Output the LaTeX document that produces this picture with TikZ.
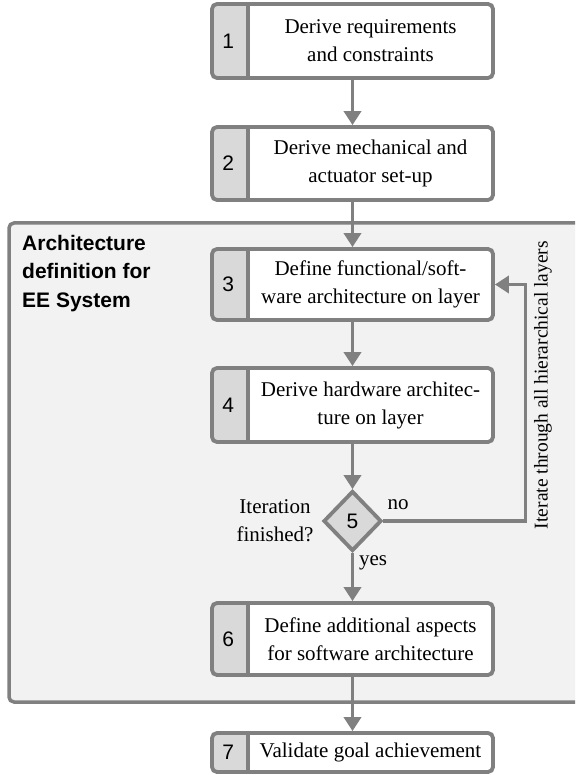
\documentclass[tikz,border=0pt]{standalone}
\usepackage{fontspec}
\setmainfont{Liberation Serif}
\setsansfont{Liberation Sans}
\usetikzlibrary{arrows.meta,shapes.geometric}
\definecolor{lg}{RGB}{128,128,128}
\definecolor{cellgray}{RGB}{217,217,217}
\definecolor{clusterbg}{RGB}{242,242,242}
\begin{document}
\begin{tikzpicture}[x=1pt,y=-1pt,
  boxshape/.style={draw=lg, line width=3.8pt, rounded corners=5pt, fill=white,
    minimum width=281pt, inner sep=0pt,
    path picture={\fill[cellgray] (path picture bounding box.north west) rectangle ([xshift=36pt]path picture bounding box.south west);
      \draw[lg, line width=3.8pt] ([xshift=36pt]path picture bounding box.north west) -- ([xshift=36pt]path picture bounding box.south west);}},
  numtxt/.style={font=\sffamily\fontsize{21}{25}\selectfont, inner sep=0pt},
  boxtxt/.style={font=\fontsize{21}{28}\selectfont, align=center, inner sep=0pt},
  lbl/.style={font=\fontsize{21}{28}\selectfont, align=center, inner sep=0pt},
  arr/.style={draw=lg, line width=3.8pt, -{Triangle[width=17pt,length=14pt]}},
  decision/.style={diamond, draw=lg, fill=cellgray, line width=3.8pt, minimum width=58pt, minimum height=60pt, inner sep=0pt, font=\sffamily\fontsize{21}{25}\selectfont}
]
\useasboundingbox (0,0) rectangle (575,775);
\begin{scope}
\clip (0,0) rectangle (575,775);
\draw[draw=lg, fill=clusterbg, line width=3.5pt, rounded corners=5pt] (9,223) rectangle (640,702);
\end{scope}
\node[font=\sffamily\bfseries\fontsize{21}{28.5}\selectfont, align=left, anchor=west, inner sep=0pt] (cl) at (22,273.5) {Architecture\\definition for\\EE System};

\node[boxshape, minimum height=74pt] (b1) at (352.5,41) {};
\node[numtxt] (n1) at ([xshift=18pt]b1.west) {1};
\node[boxtxt] (t1) at ([xshift=18pt]b1.center) {Derive requirements\\and constraints};

\node[boxshape, minimum height=73pt] (b2) at (352.5,163.5) {};
\node[numtxt] (n2) at ([xshift=18pt]b2.west) {2};
\node[boxtxt] (t2) at ([xshift=18pt]b2.center) {Derive mechanical and\\actuator set-up};

\node[boxshape, minimum height=71pt] (b3) at (352.5,284.5) {};
\node[numtxt] (n3) at ([xshift=18pt]b3.west) {3};
\node[boxtxt] (t3) at ([xshift=18pt]b3.center) {Define functional/soft-\\ware architecture on layer};

\node[boxshape, minimum height=74pt] (b4) at (352.5,405) {};
\node[numtxt] (n4) at ([xshift=18pt]b4.west) {4};
\node[boxtxt] (t4) at ([xshift=18pt]b4.center) {Derive hardware architec-\\ture on layer};

\node[decision] (d5) at (352.5,521) {5};

\node[boxshape, minimum height=72pt] (b6) at (352.5,639) {};
\node[numtxt] (n6) at ([xshift=18pt]b6.west) {6};
\node[boxtxt] (t6) at ([xshift=18pt]b6.center) {Define additional aspects\\for software architecture};

\node[boxshape, minimum height=39pt] (b7) at (352.5,752.5) {};
\node[numtxt] (n7) at ([xshift=18pt]b7.west) {7};
\node[boxtxt] (t7) at ([xshift=18pt]b7.center) {Validate goal achievement};

\draw[arr] (b1.south) -- (b2.north);
\draw[arr] (b2.south) -- (b3.north);
\draw[arr] (b3.south) -- (b4.north);
\draw[arr] (b4.south) -- (d5.north);
\draw[arr] (d5.south) -- (b6.north);
\draw[arr] (b6.south) -- (b7.north);
\draw[arr] (d5.east) -- ++(142,0) |- (b3.east);

\node[lbl] (no) at (398,505) {no};
\node[lbl] (yes) at (373,563) {yes};
\node[lbl] (itf) at (275,521) {Iteration\\finished?};
\node[lbl, rotate=90, font=\fontsize{19.5}{24}\selectfont] (iter) at (543,385) {Iterate through all hierarchical layers};
\end{tikzpicture}
\end{document}
